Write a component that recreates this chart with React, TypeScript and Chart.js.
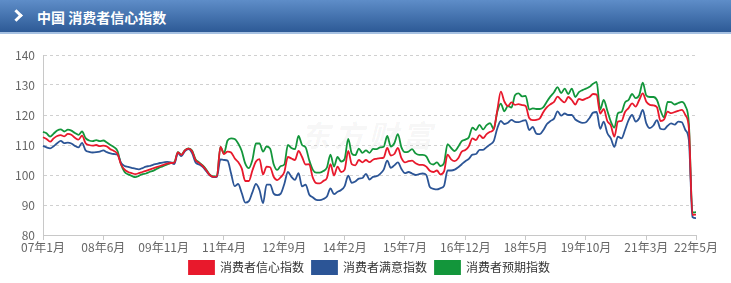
import React, { useEffect, useRef } from "react";
import { Chart, registerables } from "chart.js";

Chart.register(...registerables);

// ---------- DATA ----------
const START_YEAR = 2007;
const MONTH_COUNT = 185;
const CATEGORIES: string[] = Array.from({ length: MONTH_COUNT }, (_, k) => {
  const y = START_YEAR + Math.floor(k / 12);
  const m = (k % 12) + 1;
  return `${String(y % 100).padStart(2, "0")}年${m}月`;
});

const TICK_LABELS = [
  "07年1月", "08年6月", "09年11月", "11年4月", "12年9月", "14年2月",
  "15年7月", "16年12月", "18年5月", "19年10月", "21年3月", "22年5月",
];

const Y_MIN = 80;
const Y_MAX = 140;
const Y_STEP = 10;

const SERIES_NAMES = ["消费者信心指数", "消费者满意指数", "消费者预期指数"];

// 消费者信心指数
const CONFIDENCE = [
  112.6, 112.0, 111.1, 112.2, 113.0, 113.3, 112.9, 113.7, 113.4, 112.4, 111.8, 113.1,
  110.6, 110.0, 109.8, 110.0, 109.6, 109.8, 109.5, 108.6, 108.0, 107.0, 103.5, 101.8,
  101.0, 100.6, 100.3, 100.6, 101.0, 101.4, 101.8, 102.2, 102.6, 103.0, 103.4, 103.8,
  104.0, 104.1, 107.5, 106.7, 108.2, 108.8, 107.9, 104.9, 104.0, 103.0, 101.6, 100.0,
  99.4, 99.5, 109.4, 107.0, 107.8, 107.5, 105.6, 104.3, 102.2, 98.0, 98.0, 101.5,
  104.5, 105.3, 100.2, 102.8, 102.6, 99.4, 98.3, 99.3, 101.0, 106.0, 105.5, 105.0,
  108.0, 106.0, 103.5, 103.6, 99.2, 97.3, 97.2, 98.0, 99.0, 103.6, 99.8, 102.8,
  101.0, 101.8, 108.0, 103.6, 103.2, 105.0, 104.2, 105.0, 104.3, 105.1, 105.4, 105.6,
  105.8, 109.0, 106.5, 107.0, 109.0, 105.6, 104.2, 104.6, 104.8, 103.9, 103.4, 103.4,
  102.8, 101.4, 101.0, 101.5, 100.2, 101.2, 106.8, 105.2, 104.6, 105.6, 107.8, 108.3,
  109.6, 112.2, 111.6, 113.3, 112.3, 113.6, 114.4, 115.2, 121.5, 127.8, 124.5, 123.0,
  124.2, 123.4, 123.6, 123.3, 123.0, 119.0, 118.3, 118.4, 118.9, 121.0, 122.6, 123.6,
  124.4, 126.1, 125.0, 124.2, 126.0, 125.0, 123.5, 125.4, 125.0, 125.5, 126.0, 127.0,
  126.8, 120.5, 122.0, 118.0, 116.5, 112.8, 117.8, 118.0, 121.0, 122.3, 123.9, 122.8,
  125.0, 127.2, 124.4, 123.4, 123.2, 122.6, 118.0, 118.5, 121.1, 120.6, 121.0, 121.4,
  121.7, 120.0, 115.5, 86.7, 86.8,
];

// 消费者满意指数
const SATISFACTION = [
  109.7, 109.2, 108.9, 109.6, 110.6, 111.4, 110.6, 110.8, 110.5, 109.7, 109.2, 110.7,
  108.2, 107.7, 107.5, 107.6, 107.8, 108.2, 107.6, 107.2, 107.0, 106.8, 104.0, 103.0,
  102.7, 102.4, 102.1, 101.9, 102.3, 102.8, 103.0, 103.4, 103.7, 104.0, 104.2, 104.4,
  104.2, 103.6, 107.3, 106.3, 108.0, 108.6, 107.3, 104.2, 103.5, 102.7, 101.3, 99.9,
  99.3, 99.4, 105.2, 105.0, 104.8, 100.5, 96.3, 97.0, 94.0, 90.8, 91.3, 94.2,
  97.0, 95.0, 90.6, 96.8, 96.8, 93.8, 93.3, 93.8, 97.0, 101.0, 99.4, 98.4,
  100.6, 96.2, 96.8, 93.5, 92.6, 91.7, 91.6, 92.0, 92.8, 95.5, 93.6, 94.4,
  95.0, 96.3, 99.8, 97.4, 97.8, 98.8, 99.0, 100.4, 98.5, 99.4, 99.6, 100.4,
  101.8, 104.8, 102.4, 103.2, 104.2, 102.0, 100.6, 101.0, 100.5, 100.0, 100.3, 100.5,
  100.0, 96.0, 95.4, 95.2, 95.6, 96.4, 101.5, 101.5, 101.8, 102.6, 103.6, 104.6,
  105.4, 106.8, 107.0, 108.4, 108.4, 109.3, 110.2, 111.3, 115.5, 118.0, 117.0, 117.4,
  118.4, 117.7, 117.6, 118.0, 118.3, 115.0, 116.0, 113.8, 113.6, 115.0, 117.0, 118.0,
  118.8, 121.2, 119.8, 120.5, 120.0, 120.0, 118.5, 117.8, 117.4, 117.6, 119.0, 120.8,
  121.0, 115.4, 117.8, 114.0, 112.2, 109.4, 112.8, 112.2, 115.0, 118.3, 120.0, 117.8,
  118.9, 121.7, 117.2, 115.6, 116.5, 118.3, 115.4, 115.2, 116.4, 117.2, 116.8, 117.8,
  117.6, 115.0, 111.5, 86.0, 85.6,
];

// 消费者预期指数
const EXPECTATION = [
  114.4, 113.9, 112.8, 113.8, 114.8, 115.2, 114.5, 115.1, 114.8, 114.0, 113.4, 114.5,
  112.3, 111.5, 111.3, 111.6, 111.3, 111.5, 110.8, 110.0, 109.3, 108.0, 103.5, 101.0,
  100.2, 99.7, 99.3, 99.7, 100.3, 100.5, 101.0, 101.4, 102.0, 102.6, 103.0, 103.5,
  104.0, 104.2, 107.6, 106.8, 108.3, 108.9, 108.2, 105.2, 104.2, 103.2, 101.8, 100.1,
  99.5, 99.6, 109.4, 107.2, 111.5, 112.2, 112.0, 110.5, 108.0, 103.8, 102.3, 105.0,
  110.5, 110.5, 107.8, 109.5, 108.8, 103.6, 101.7, 103.0, 103.5, 110.0, 109.0, 108.6,
  113.0, 110.0, 109.2, 105.0, 101.8, 100.8, 100.8, 101.3, 102.5, 106.8, 102.8, 106.0,
  104.5, 105.4, 112.0, 107.2, 106.6, 108.8, 107.4, 108.2, 107.4, 108.7, 108.6, 109.2,
  109.4, 113.0, 109.5, 110.6, 113.6, 109.2, 107.6, 107.8, 108.6, 107.2, 106.7, 106.7,
  106.2, 104.0, 103.5, 104.2, 103.0, 104.0, 110.3, 109.0, 108.0, 109.4, 111.3, 111.8,
  112.6, 115.8, 115.0, 116.7, 115.2, 116.6, 117.3, 115.3, 121.0, 123.8, 121.2, 123.0,
  122.5, 126.6, 127.2, 126.2, 126.4, 121.8, 122.2, 122.0, 122.0, 122.6, 124.5, 126.2,
  127.6, 129.3, 127.3, 128.8, 127.0, 128.8, 126.0, 127.6, 128.3, 128.8, 129.4, 130.4,
  131.0, 121.8, 125.0, 121.5, 117.8, 115.8, 120.6, 121.0, 124.2, 125.0, 127.0, 125.6,
  126.6, 130.8, 126.5, 126.0, 126.0, 125.0, 121.5, 119.2, 124.4, 124.3, 123.5, 124.0,
  124.4, 123.0, 117.0, 87.5, 87.6,
];

const COLORS = ["#e8192c", "#2c5596", "#13963b"];
const FONT = "'Noto Sans CJK SC', 'Noto Sans', sans-serif";

export default function App() {
  const canvasRef = useRef<HTMLCanvasElement | null>(null);

  useEffect(() => {
    const canvas = canvasRef.current;
    if (!canvas) return;
    const tickIndex = TICK_LABELS.map((t) => CATEGORIES.indexOf(t)).filter((i) => i >= 0);
    const seriesData = [CONFIDENCE, SATISFACTION, EXPECTATION];

    const chart = new Chart(canvas, {
      type: "line",
      data: {
        labels: CATEGORIES,
        datasets: SERIES_NAMES.map((name, k) => ({
          label: name,
          data: seriesData[k],
          borderColor: COLORS[k],
          backgroundColor: COLORS[k],
          borderWidth: 1.8,
          pointRadius: 0,
          pointHoverRadius: 0,
          tension: 0.4,
          cubicInterpolationMode: "monotone" as const,
          fill: false,
        })),
      },
      options: {
        animation: false,
        responsive: false,
        maintainAspectRatio: false,
        events: [],
        layout: { padding: { top: 19, right: 35, left: 0, bottom: 0 } },
        plugins: {
          legend: {
            display: true,
            position: "bottom",
            fullSize: false,
            labels: {
              boxWidth: 25,
              boxHeight: 13,
              padding: 8,
              color: "#333",
              font: { size: 12, family: FONT },
            },
          },
          tooltip: { enabled: false },
        },
        scales: {
          x: {
            type: "category",
            grid: {
              display: true,
              drawOnChartArea: false,
              drawTicks: true,
              tickLength: 5,
              color: "#c8c8c8",
            },
            border: { display: true, color: "#c8c8c8", width: 1 },
            ticks: {
              autoSkip: false,
              maxRotation: 0,
              minRotation: 0,
              padding: 0,
              color: "#666",
              font: { size: 12, family: FONT },
            },
            afterBuildTicks: (scale: any) => {
              scale.ticks = tickIndex.map((v) => ({ value: v }));
            },
            afterFit: (scale: any) => {
              scale.height = 18;
            },
          },
          y: {
            min: Y_MIN,
            max: Y_MAX,
            ticks: {
              stepSize: Y_STEP,
              padding: 8,
              color: "#666",
              font: { size: 12, family: FONT },
            },
            grid: {
              color: "#d0d0d0",
              drawTicks: false,
              lineWidth: 1,
            },
            border: { display: true, color: "#c8c8c8", dash: [3, 3] },
            afterFit: (scale: any) => {
              scale.width = 43;
            },
          },
        },
      },
    });
    return () => chart.destroy();
  }, []);

  return (
    <div
      style={{
        position: "absolute",
        left: 0,
        top: 0,
        width: 731,
        height: 283,
        background: "#fff",
        overflow: "hidden",
        fontFamily: FONT,
      }}
    >
      <div
        style={{
          position: "absolute",
          left: 0,
          top: 0,
          width: 731,
          height: 32,
          background: "linear-gradient(#5e8dc8, #2d5a96)",
          borderBottom: "2px solid #a6c1e2",
        }}
      >
        <div
          style={{
            position: "absolute",
            left: 12,
            top: 11,
            width: 6,
            height: 6,
            borderRight: "3px solid #fff",
            borderBottom: "3px solid #fff",
            transform: "rotate(-45deg)",
          }}
        />
        <span
          style={{
            position: "absolute",
            left: 37,
            top: 0,
            lineHeight: "34px",
            color: "#fff",
            fontWeight: 700,
            fontSize: 14,
            whiteSpace: "nowrap",
          }}
        >
          中国 消费者信心指数
        </span>
      </div>
      <div
        style={{
          position: "absolute",
          left: 300,
          top: 112,
          fontSize: 30,
          fontWeight: 700,
          fontStyle: "italic",
          letterSpacing: 4,
          color: "rgba(0,0,0,0.045)",
          whiteSpace: "nowrap",
        }}
      >
        东方财富
      </div>
      <canvas
        ref={canvasRef}
        width={731}
        height={248}
        style={{ position: "absolute", left: 0, top: 36, width: 731, height: 248 }}
      />
    </div>
  );
}
